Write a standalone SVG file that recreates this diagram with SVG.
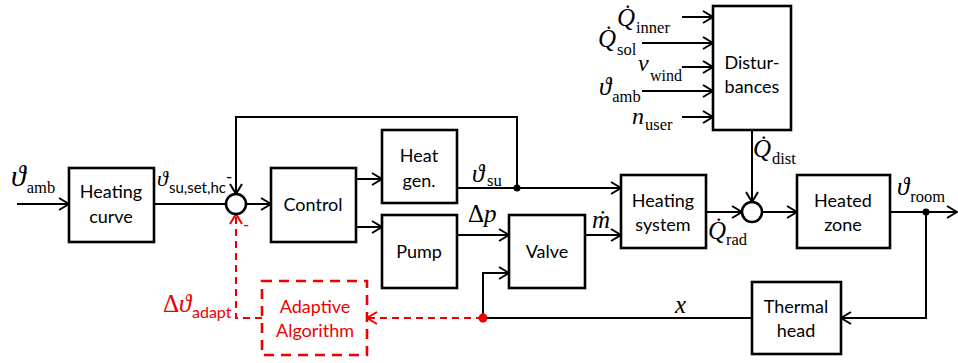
<svg xmlns="http://www.w3.org/2000/svg" width="958" height="363" viewBox="0 0 958 363">
<style>
.box{fill:#fff;stroke:#000;stroke-width:2.6}
.rbox{fill:#fff;stroke:#e00;stroke-width:2.6;stroke-dasharray:10,7}
.ln{fill:none;stroke:#000;stroke-width:2}
.rl{fill:none;stroke:#e00;stroke-width:2;stroke-dasharray:7,5}
.t{font-family:Lato,"Liberation Sans",sans-serif;font-size:18px;text-anchor:middle;fill:#000}
.rt{fill:#e00}
.m{font-family:"Liberation Serif","DejaVu Serif",serif;font-style:italic;font-size:25px;fill:#000}
.s{font-family:"Liberation Serif","DejaVu Serif",serif;font-style:normal;font-size:16.5px}
.ss{font-family:Lato,"Liberation Sans",sans-serif;font-style:normal;font-size:16px}
.up{font-style:normal}
</style>
<defs>
<marker id="a" markerUnits="userSpaceOnUse" markerWidth="14" markerHeight="14" refX="12" refY="7" orient="auto">
<path d="M2,1 L12,7 L2,13" fill="none" stroke="#000" stroke-width="2"/>
</marker>
<marker id="ar" markerUnits="userSpaceOnUse" markerWidth="14" markerHeight="14" refX="12" refY="7" orient="auto">
<path d="M2,1 L12,7 L2,13" fill="none" stroke="#e00" stroke-width="2"/>
</marker>
</defs>
<rect width="958" height="363" fill="#fff"/>
<g id="connectors">
<path class="ln" d="M17,204 H69" marker-end="url(#a)"/>
<path class="ln" d="M154,204 H226"/>
<path class="ln" d="M517,188 V117 H236 V194" marker-end="url(#a)"/>
<path class="ln" d="M246,204 H271" marker-end="url(#a)"/>
<path class="ln" d="M356,179 H382" marker-end="url(#a)"/>
<path class="ln" d="M356,227 H382" marker-end="url(#a)"/>
<path class="ln" d="M457,188 H621" marker-end="url(#a)"/>
<path class="ln" d="M457,235 H509" marker-end="url(#a)"/>
<path class="ln" d="M585,235 H621" marker-end="url(#a)"/>
<path class="ln" d="M706,212 H742" marker-end="url(#a)"/>
<path class="ln" d="M752,130 V202" marker-end="url(#a)"/>
<path class="ln" d="M762,212 H797" marker-end="url(#a)"/>
<path class="ln" d="M890,212 H957" marker-end="url(#a)"/>
<path class="ln" d="M926,212 V318 H841" marker-end="url(#a)"/>
<path class="ln" d="M752,318 H483 V273 H509" marker-end="url(#a)"/>
<path class="rl" d="M483,318 H367" marker-end="url(#ar)"/>
<path class="rl" d="M262,318 H236 V214" marker-end="url(#ar)"/>
<path class="ln" d="M682,17 H713" marker-end="url(#a)"/>
<path class="ln" d="M642,43 H713" marker-end="url(#a)"/>
<path class="ln" d="M682,67 H713" marker-end="url(#a)"/>
<path class="ln" d="M642,91 H713" marker-end="url(#a)"/>
<path class="ln" d="M682,117 H713" marker-end="url(#a)"/>
<circle cx="517" cy="188" r="3.5" fill="#000"/>
<circle cx="926" cy="212" r="3.5" fill="#000"/>
<circle cx="483" cy="318" r="4.5" fill="#e00"/>
</g>
<g id="sum1"><circle cx="236" cy="204" r="10" fill="#fff" stroke="#000" stroke-width="2.6"/></g>
<g id="sum2"><circle cx="752" cy="212" r="10" fill="#fff" stroke="#000" stroke-width="2.6"/></g>
<g id="heating-curve"><rect class="box" x="69" y="168" width="85" height="74"/><text class="t" x="111" y="198">Heating</text><text class="t" x="111" y="223">curve</text></g>
<g id="control"><rect class="box" x="271" y="168" width="85" height="74"/><text class="t" x="313" y="211">Control</text></g>
<g id="heat-gen"><rect class="box" x="382" y="130" width="75" height="73"/><text class="t" x="419" y="162">Heat</text><text class="t" x="419" y="187">gen.</text></g>
<g id="pump"><rect class="box" x="382" y="215" width="75" height="73"/><text class="t" x="419" y="258">Pump</text></g>
<g id="valve"><rect class="box" x="509" y="215" width="76" height="73"/><text class="t" x="547" y="258">Valve</text></g>
<g id="heating-system"><rect class="box" x="621" y="175" width="85" height="73"/><text class="t" x="663" y="207">Heating</text><text class="t" x="663" y="231">system</text></g>
<g id="heated-zone"><rect class="box" x="797" y="175" width="93" height="73"/><text class="t" x="843" y="207">Heated</text><text class="t" x="843" y="231">zone</text></g>
<g id="thermal-head"><rect class="box" x="752" y="282" width="89" height="72"/><text class="t" x="796" y="313">Thermal</text><text class="t" x="796" y="337">head</text></g>
<g id="disturbances"><rect class="box" x="713" y="6" width="78" height="124"/><text class="t" x="752" y="69">Distur-</text><text class="t" x="752" y="93">bances</text></g>
<g id="adaptive"><rect class="rbox" x="262" y="281" width="105" height="74"/><text class="t rt" x="315" y="313">Adaptive</text><text class="t rt" x="315" y="337">Algorithm</text></g>
<g id="labels">
<text class="m" x="11" y="186" style="font-size:30px">ϑ<tspan class="s" dx="1" dy="7">amb</tspan></text>
<text class="m" x="157" y="186" style="font-size:22px">ϑ<tspan class="ss" x="169" y="193" style="font-size:15px">su,set,hc</tspan></text>
<text class="t" x="229" y="183">-</text>
<text class="t rt" x="246" y="231">-</text>
<text class="m" x="472" y="182">ϑ<tspan class="s" x="487" y="186">su</tspan></text>
<text class="m" x="468" y="222"><tspan class="up">Δ</tspan>p</text>
<text class="m" x="592" y="228">ṁ</text>
<text class="m" x="708" y="239">Q̇<tspan class="s" x="726" y="245">rad</tspan></text>
<text class="m" x="753" y="157">Q̇<tspan class="s" x="772" y="164">dist</tspan></text>
<text class="m" x="897" y="195">ϑ<tspan class="s" dx="1" dy="7">room</tspan></text>
<text class="m" x="675" y="313">x</text>
<text class="m" x="163" y="312" style="fill:#e00"><tspan class="up">Δ</tspan>ϑ<tspan class="ss" x="192" y="318">adapt</tspan></text>
<text class="m" x="617" y="26">Q̇<tspan class="s" x="636" y="33">inner</tspan></text>
<text class="m" x="598" y="47">Q̇<tspan class="s" x="617" y="55">sol</tspan></text>
<text class="m" x="638" y="71" style="font-size:24px">v<tspan class="s" x="650" y="81" style="font-size:16px">wind</tspan></text>
<text class="m" x="599" y="95">ϑ<tspan class="s" dx="1" dy="7">amb</tspan></text>
<text class="m" x="632" y="124" style="font-size:24px">n<tspan class="s" x="645" y="130">user</tspan></text>
</g>
</svg>
